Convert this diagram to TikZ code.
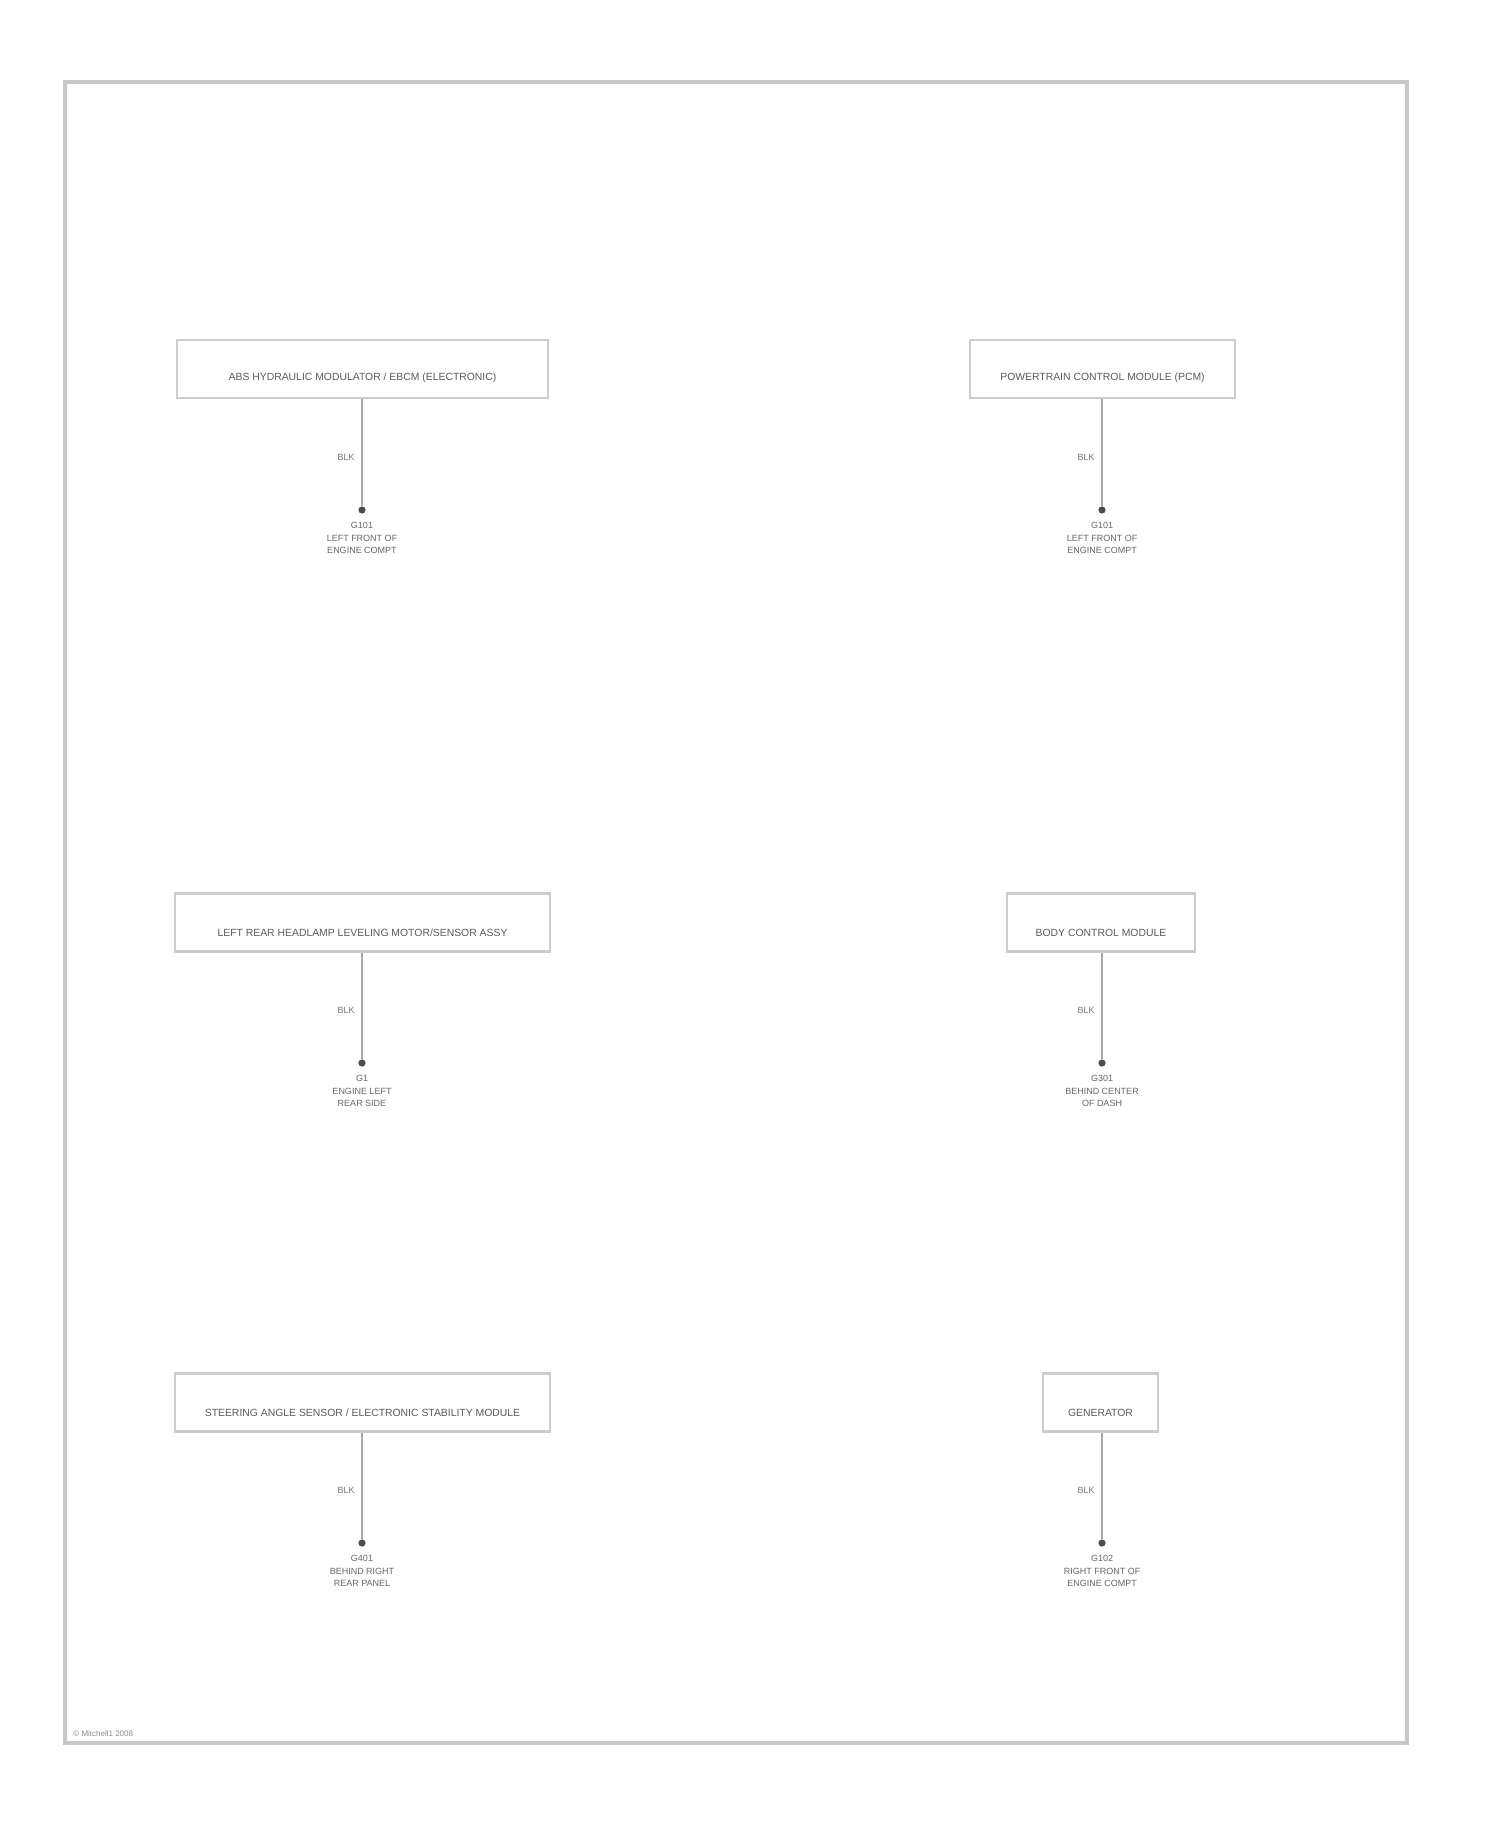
\documentclass[tikz,border=0pt]{standalone}
\usepackage{fontspec}
\setmainfont{Liberation Sans}
\begin{document}
\begin{tikzpicture}[x=0.5pt,y=-0.5pt,
  frame/.style={draw=black!22,line width=2pt},
  compbox/.style={draw=black!20,line width=1.4pt,minimum height=29pt,inner sep=0pt},
  comptext/.style={font=\fontsize{5.2}{6}\selectfont,text=black!65,inner sep=0pt},
  wire/.style={draw=black!35,line width=1.3pt},
  gdot/.style={circle,fill=black!70,draw=none,minimum size=3.6pt,inner sep=0pt},
  wlabel/.style={font=\fontsize{4.5}{5}\selectfont,text=black!55,inner sep=0pt,anchor=east},
  gtext/.style={font=\fontsize{4.5}{6.3}\selectfont,text=black!60,align=center,inner sep=0pt,anchor=north},
  note/.style={font=\fontsize{4}{5}\selectfont,text=black!45,inner sep=0pt,anchor=south west}]
\useasboundingbox (0,0) rectangle (1500,1828);
\draw[frame] (65,82) rectangle (1407,1743);
\node[note] (copy) at (73,1737) {© Mitchell1 2008};
% row 1 left
\node[compbox,minimum width=185.5pt] (b1) at (362.5,369) {};
\node[comptext] (t1) at (362.5,378) {ABS HYDRAULIC MODULATOR / EBCM (ELECTRONIC)};
\node[gdot] (d1) at (362,510) {};
\draw[wire] (b1.south -| d1) -- (d1);
\node[wlabel] (w1) at (355,457) {BLK};
\node[gtext] (g1) at (362,522) {G101\\LEFT FRONT OF\\ENGINE COMPT};
% row 1 right
\node[compbox,minimum width=132.5pt] (b2) at (1102.5,369) {};
\node[comptext] (t2) at (1102.5,378) {POWERTRAIN CONTROL MODULE (PCM)};
\node[gdot] (d2) at (1102,510) {};
\draw[wire] (b2.south -| d2) -- (d2);
\node[wlabel] (w2) at (1095,457) {BLK};
\node[gtext] (g2) at (1102,522) {G101\\LEFT FRONT OF\\ENGINE COMPT};
% row 2 left
\node[compbox,minimum width=187.5pt] (b3) at (362.5,922.5) {};
\node[comptext] (t3) at (362.5,933) {LEFT REAR HEADLAMP LEVELING MOTOR/SENSOR ASSY};
\node[gdot] (d3) at (362,1063) {};
\draw[wire] (b3.south -| d3) -- (d3);
\node[wlabel] (w3) at (355,1010) {BLK};
\node[gtext] (g3) at (362,1075) {G1\\ENGINE LEFT\\REAR SIDE};
% row 2 right
\node[compbox,minimum width=94pt] (b4) at (1101,922.5) {};
\node[comptext] (t4) at (1101,933) {BODY CONTROL MODULE};
\node[gdot] (d4) at (1102,1063) {};
\draw[wire] (b4.south -| d4) -- (d4);
\node[wlabel] (w4) at (1095,1010) {BLK};
\node[gtext] (g4) at (1102,1075) {G301\\BEHIND CENTER\\OF DASH};
% row 3 left
\node[compbox,minimum width=187.5pt] (b5) at (362.5,1402.5) {};
\node[comptext] (t5) at (362.5,1413) {STEERING ANGLE SENSOR / ELECTRONIC STABILITY MODULE};
\node[gdot] (d5) at (362,1543) {};
\draw[wire] (b5.south -| d5) -- (d5);
\node[wlabel] (w5) at (355,1490) {BLK};
\node[gtext] (g5) at (362,1555) {G401\\BEHIND RIGHT\\REAR PANEL};
% row 3 right
\node[compbox,minimum width=57.5pt] (b6) at (1100.5,1402.5) {};
\node[comptext] (t6) at (1100.5,1413) {GENERATOR};
\node[gdot] (d6) at (1102,1543) {};
\draw[wire] (b6.south -| d6) -- (d6);
\node[wlabel] (w6) at (1095,1490) {BLK};
\node[gtext] (g6) at (1102,1555) {G102\\RIGHT FRONT OF\\ENGINE COMPT};
\end{tikzpicture}
\end{document}
